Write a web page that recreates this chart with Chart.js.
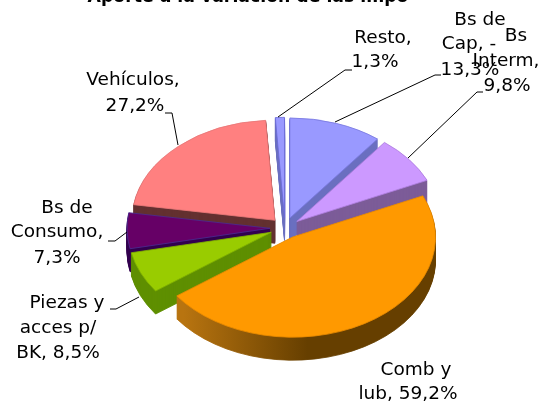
<!DOCTYPE html>
<html><head><meta charset="utf-8">
<style>html,body{margin:0;padding:0;background:#fff}#w{width:542px;height:403px}</style>
<script src="https://cdn.jsdelivr.net/npm/chart.js@4/dist/chart.umd.min.js"></script>
</head><body><div id="w"><canvas id="c" width="542" height="403"></canvas></div>
<script>
const categories = ["Bs de Cap, -", "Bs Interm,", "Comb y lub,", "Piezas y acces p/ BK,", "Bs de Consumo,", "Vehículos,", "Resto,"];
const values = [13.3, 9.8, 59.2, 8.5, 7.3, 27.2, 1.3];
const topColors = ["#9999ff", "#cc99ff", "#ff9900", "#99cc00", "#660066", "#ff8080", "#9999ff"];
const edgeColors = ["#7a7ae0", "#b080e0", "#e88a00", "#80b000", "#4a2a90", "#e87878", "#6a6ad8"];
const wallColors = ["#6a6fc0", "#7c5c98", "#663f00", "#5f8f00", "#33004f", "#633030", "#6a6fc0"];
const titleText = "Aporte a la variación de las impo";

const SQUASH = 0.70, DEPTH = 23, EXPLODE = 15;
const paintOrder = [5, 6, 0, 1, 4, 3, 2];
const FONT = '18.5px "DejaVu Sans", sans-serif';
const textLines = [
  ["Resto,",383,38],["1,3%",375,62],
  ["Bs de",480,20],["Cap, -",469,44],["13,3%",470,70],
  ["Bs",516,36],["Interm,",506,61],["9,8%",507,86],
  ["Vehículos,",133,80],["27,2%",135,106],
  ["Bs de",67,208],["Consumo,",57,232],["7,3%",57,258],
  ["Piezas y",67,303],["acces p/",58,328],["BK, 8,5%",58,353],
  ["Comb y",416,370],["lub, 59,2%",408,394]
];
const leaders = [
  [[278,117],[345,70],[352,70]],
  [[335,122],[435,75],[441,75]],
  [[408,158],[477,92],[483,92]],
  [[178,145],[172,113],[165,113]],
  [[127,232],[115,241],[108,241]],
  [[139,297],[116,309],[110,309]]
];

const pie3d = {
  id: 'pie3d',
  beforeDatasetDraw(chart) {
    const ctx = chart.ctx, arcs = chart.getDatasetMeta(0).data;
    paintOrder.forEach(i => {
      const arc = arcs[i], o = arc.options;
      const mid = (arc.startAngle + arc.endAngle) / 2;
      const ox = Math.cos(mid) * EXPLODE, oy = Math.sin(mid) * EXPLODE * SQUASH;
      const place = dy => {
        ctx.translate(arc.x + ox, arc.y + oy + dy);
        ctx.scale(1, SQUASH);
        ctx.translate(-arc.x, -arc.y);
      };
      let wall = wallColors[i];
      if (i === 2) {
        wall = ctx.createLinearGradient(176, 0, 300, 0);
        wall.addColorStop(0, "#b87410");
        wall.addColorStop(1, "#663f00");
      }
      arc.options = Object.assign({}, o, {backgroundColor: wall, borderColor: wall, borderWidth: 1});
      for (let d = DEPTH; d >= 1; d--) {
        ctx.save(); place(d); arc.draw(ctx); ctx.restore();
      }
      arc.options = o;
      ctx.save(); place(0); arc.draw(ctx); ctx.restore();
    });
    return false;
  },
  afterDraw(chart) {
    const ctx = chart.ctx;
    ctx.save();
    ctx.strokeStyle = "#000"; ctx.lineWidth = 1;
    leaders.forEach(l => {
      ctx.beginPath();
      l.forEach((p, j) => j ? ctx.lineTo(p[0], p[1]) : ctx.moveTo(p[0], p[1]));
      ctx.stroke();
    });
    ctx.fillStyle = "#000"; ctx.textAlign = "center"; ctx.textBaseline = "middle";
    ctx.font = FONT;
    textLines.forEach(t => ctx.fillText(t[0], t[1], t[2]));
    ctx.font = 'bold 17.3px "DejaVu Sans", sans-serif';
    ctx.fillText(titleText, 248, -2);
    ctx.restore();
  }
};

new Chart(document.getElementById('c'), {
  type: 'pie',
  data: {
    labels: categories,
    datasets: [{data: values, backgroundColor: topColors, borderColor: edgeColors, borderWidth: 1}]
  },
  options: {
    responsive: false,
    animation: false,
    radius: 143,
    layout: {padding: {left: 28, top: 53}},
    plugins: {legend: {display: false}, tooltip: {enabled: false}, title: {display: false}}
  },
  plugins: [pie3d]
});
</script></body></html>
